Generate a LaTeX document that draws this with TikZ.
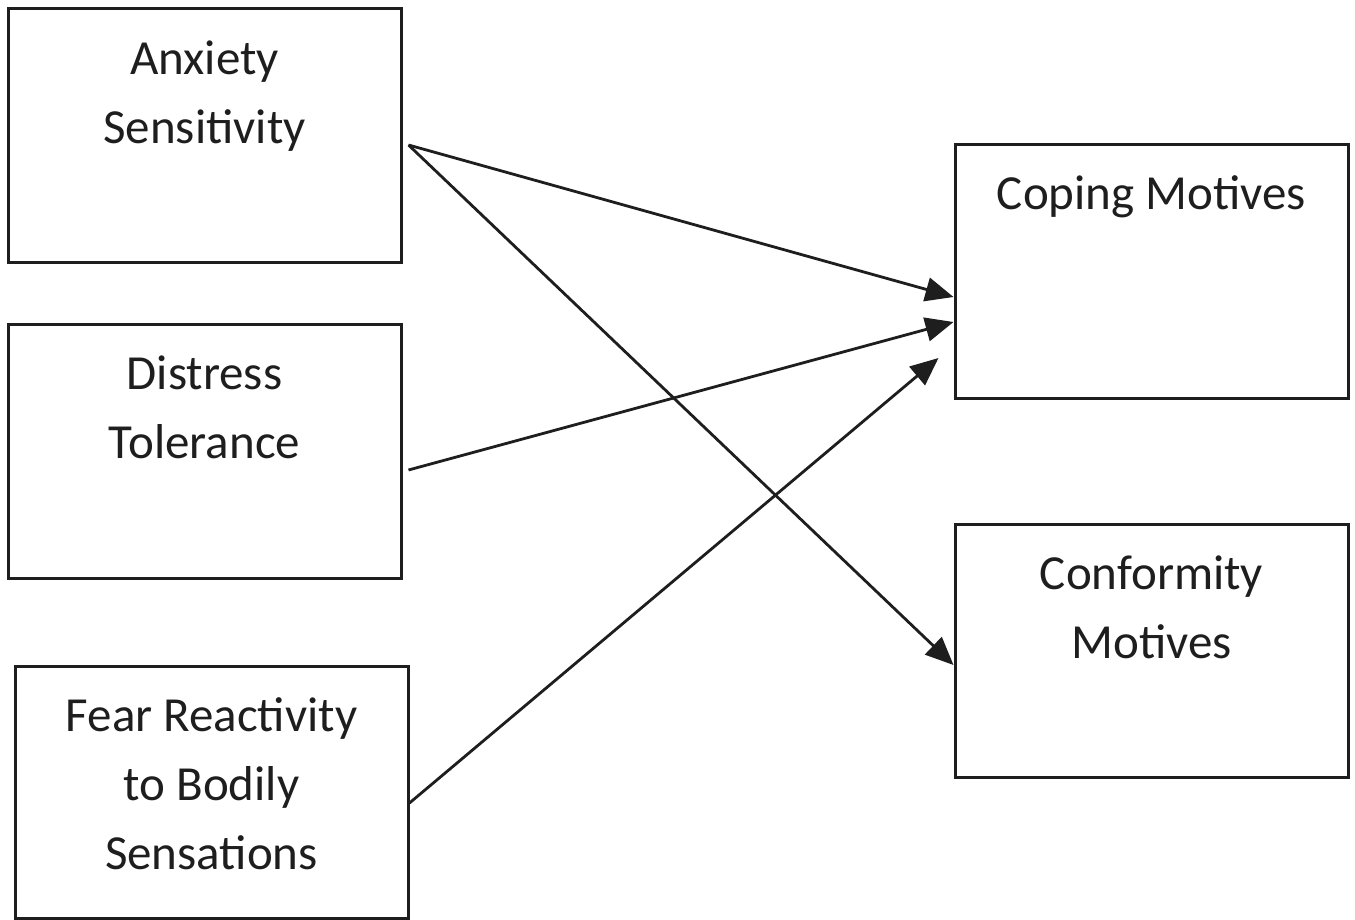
\documentclass[tikz,border=0pt]{standalone}
\usepackage{fontspec}
\setmainfont{Carlito}
\usetikzlibrary{arrows.meta,calc}
\definecolor{ink}{HTML}{1E1E1E}
\tikzset{
  x=1pt,y=-1pt,
  box/.style={draw=ink,line width=3pt,minimum width=393pt,inner sep=0pt},
  lbl/.style={anchor=base,align=center,inner sep=0pt,text=ink,font=\fontsize{49}{69}\selectfont},
  conn/.style={draw=ink,line width=2.8pt,-{Triangle[length=28pt,width=24pt]}}
}
\begin{document}
\begin{tikzpicture}
\useasboundingbox (0,0) rectangle (1355,920);
\node[box,minimum height=254pt] (as) at (204.5,136) {};
\node[box,minimum height=254pt] (dt) at (204.5,451) {};
\node[box,minimum height=252pt] (fr) at (211.5,792) {};
\node[box,minimum height=253pt] (cm) at (1151.5,271.5) {};
\node[box,minimum height=253pt] (cf) at (1151.5,650.5) {};
\node[lbl] (ast) at ($(as.north)+(0,136)$) {Anxiety\\Sensitivity};
\node[lbl] (dtt) at ($(dt.north)+(0,136)$) {Distress\\Tolerance};
\node[lbl] (frt) at ($(fr.north)+(0,205)$) {Fear Reactivity\\to Bodily\\Sensations};
\node[lbl] (cmt) at ($(cm.north)+(0,66)$) {Coping Motives};
\node[lbl] (cft) at ($(cf.north)+(0,136)$) {Conformity\\Motives};
\draw[conn] ($(as.east)+(6,9)$) -- ($(cm.west)+(0,25.5)$);
\draw[conn] ($(as.east)+(6,9)$) -- ($(cf.west)+(0,14.5)$);
\draw[conn] ($(dt.east)+(6,19)$) -- ($(cm.west)+(0,50.5)$);
\draw[conn] ($(fr.east)+(0,11)$) -- ($(cm.west)+(-15,86.5)$);
\end{tikzpicture}
\end{document}
